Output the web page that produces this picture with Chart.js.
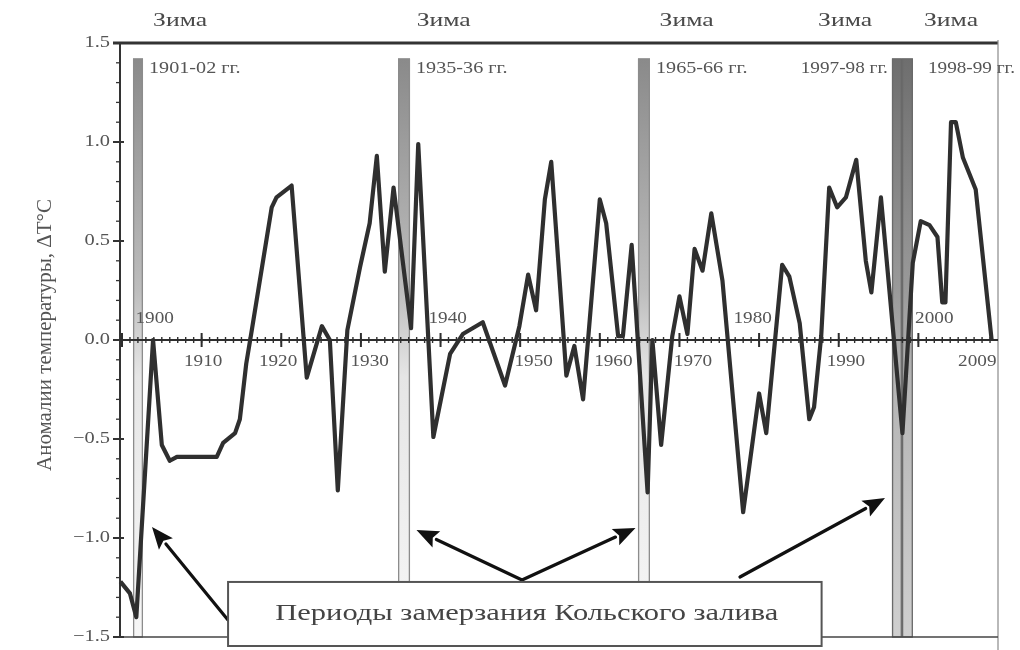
<!DOCTYPE html>
<html><head><meta charset="utf-8">
<script src="https://cdn.jsdelivr.net/npm/chart.js@4.4.1/dist/chart.umd.min.js"></script>
<style>html,body{margin:0;padding:0;background:#fff;}canvas{display:block;}</style>
</head><body>
<canvas id="c" width="1020" height="650"></canvas>
<script>
// ---- data ----
const years = [1899.8,1901.0,1901.8,1903.9,1905.0,1906.0,1906.9,1911.9,1912.7,1914.2,1914.8,1915.6,1916.3,1918.8,1919.4,1921.3,1923.2,1925.1,1926.1,1927.1,1928.3,1929.9,1931.1,1932.0,1933.0,1934.1,1936.3,1937.2,1939.1,1941.2,1942.8,1945.3,1948.1,1949.9,1951.0,1952.0,1953.1,1953.9,1955.8,1956.8,1957.9,1960.0,1960.8,1962.3,1962.9,1964.0,1966.0,1966.6,1967.7,1969.1,1970.0,1971.0,1971.9,1972.9,1974.0,1975.4,1978.0,1980.0,1980.9,1982.9,1983.8,1985.1,1986.3,1986.9,1987.8,1988.8,1989.8,1990.9,1992.2,1993.4,1994.1,1995.3,1998.0,1999.3,2000.3,2001.4,2002.4,2003.0,2003.4,2004.1,2004.7,2005.6,2007.2,2009.2];
const anomalies = [-1.22,-1.28,-1.40,0.0,-0.53,-0.61,-0.59,-0.59,-0.52,-0.47,-0.40,-0.12,0.05,0.67,0.72,0.78,-0.19,0.07,0.0,-0.76,0.05,0.37,0.59,0.93,0.345,0.77,0.06,0.99,-0.49,-0.07,0.03,0.09,-0.23,0.07,0.33,0.15,0.71,0.90,-0.18,-0.03,-0.30,0.71,0.59,0.02,0.02,0.48,-0.77,0.0,-0.53,0.02,0.22,0.03,0.46,0.35,0.64,0.30,-0.87,-0.27,-0.47,0.38,0.32,0.085,-0.40,-0.34,0.02,0.77,0.67,0.72,0.91,0.40,0.24,0.72,-0.47,0.39,0.60,0.58,0.52,0.19,0.19,1.10,1.10,0.92,0.76,0.0];

const yTicks = [1.5, 1.0, 0.5, 0.0, -0.5, -1.0, -1.5];
const xTickYears = [1900,1910,1920,1930,1940,1950,1960,1970,1980,1990,2000];
const xTickLabels = ['1900','1910','1920','1930','1940','1950','1960','1970','1980','1990','2000','2009'];
const xLabelAt = [1904.1,1910.2,1919.6,1931.1,1940.9,1951.7,1961.7,1971.7,1979.2,1990.9,2002.0,2007.4];
const xLabelAbove = [true,false,false,false,true,false,false,false,true,false,true,false];

const freezeStart = [1901.38, 1934.66, 1964.79, 1996.68, 1997.94];
const freezeEnd   = [1902.64, 1936.17, 1966.30, 1997.94, 1999.32];
const freezeLabels = ['1901-02 гг.','1935-36 гг.','1965-66 гг.','1997-98 гг.','1998-99 гг.'];
const freezeTop = 1.42;
const winterLabel = 'Зима';
const winterAt = [1907.3, 1940.4, 1970.9, 1990.8, 2004.1];
const yTitle = 'Аномалии температуры, ΔT°C';
const boxText = 'Периоды замерзания Кольского залива';
// arrows: [fromYear, fromValue, toYear, toValue] (heads at "to")
const arrows = [
  [1913.31,-1.414,1903.77,-0.944],
  [1950.23,-1.212,1936.98,-0.960],
  [1950.23,-1.212,1964.48,-0.949],
  [1977.60,-1.197,1995.81,-0.798]
];

const SERIF = '"Liberation Serif","DejaVu Serif",serif';
function drawText(ctx, s, x, y, o) {
  ctx.save();
  ctx.font = (o.size||16) + 'px ' + SERIF;
  ctx.fillStyle = o.color || '#4a4a4a';
  ctx.textBaseline = 'middle';
  ctx.textAlign = 'left';
  const mw = ctx.measureText(s).width;
  const sx = o.width ? o.width / mw : (o.sx || 1);
  const w = mw * sx;
  ctx.translate(x, y);
  if (o.rot) ctx.rotate(o.rot);
  let x0 = o.align === 'center' ? -w/2 : (o.align === 'right' ? -w : 0);
  ctx.translate(x0, 0);
  ctx.scale(sx, o.sy || 1);
  ctx.fillText(s, 0, 0);
  ctx.restore();
}

const deco = {
  id: 'deco',
  beforeDatasetsDraw(chart) {
    const {ctx, chartArea: a, scales: {x, y}} = chart;
    ctx.save();
    // freeze bars
    freezeStart.forEach((s, i) => {
      const x0 = x.getPixelForValue(s), x1 = x.getPixelForValue(freezeEnd[i]);
      const yt = y.getPixelForValue(freezeTop), yb = y.getPixelForValue(-1.5);
      const dark = i >= 3;
      const g = ctx.createLinearGradient(0, yt, 0, yb);
      g.addColorStop(0, dark ? '#6e6e6e' : '#8a8a8a');
      g.addColorStop(0.4, dark ? '#9a9a9a' : '#bdbdbd');
      g.addColorStop(0.55, dark ? '#b4b4b4' : '#e6e6e6');
      g.addColorStop(1, dark ? '#cfcfcf' : '#f6f6f6');
      ctx.fillStyle = g;
      ctx.fillRect(x0, yt, x1 - x0, yb - yt);
      ctx.strokeStyle = dark ? '#6a6a6a' : '#8c8c8c';
      ctx.lineWidth = 1.3;
      ctx.strokeRect(x0 + 0.65, yt, x1 - x0 - 1.3, yb - yt);
    });
    // frame: top, right, bottom
    ctx.strokeStyle = '#333'; ctx.lineWidth = 3;
    ctx.beginPath(); ctx.moveTo(a.left - 7, a.top); ctx.lineTo(a.right, a.top); ctx.stroke();
    ctx.strokeStyle = '#8a8a8a'; ctx.lineWidth = 1.2;
    ctx.beginPath(); ctx.moveTo(a.right, a.top - 3); ctx.lineTo(a.right, 650); ctx.stroke();
    ctx.strokeStyle = '#444'; ctx.lineWidth = 1.6;
    ctx.beginPath(); ctx.moveTo(a.left - 6, a.bottom); ctx.lineTo(a.right, a.bottom); ctx.stroke();
    // y axis
    ctx.strokeStyle = '#333'; ctx.lineWidth = 2;
    ctx.beginPath(); ctx.moveTo(a.left, a.top); ctx.lineTo(a.left, a.bottom); ctx.stroke();
    for (let k = -15; k <= 15; k++) {
      const py = y.getPixelForValue(k / 10);
      const major = k % 5 === 0;
      ctx.lineWidth = major ? 2 : 1.3;
      ctx.beginPath();
      ctx.moveTo(a.left - (major ? 7 : 4), py);
      ctx.lineTo(a.left + (major ? 4 : 0), py);
      ctx.stroke();
    }
    yTicks.forEach(v => {
      const lbl = (v < 0 ? '\u2212' : '') + Math.abs(v).toFixed(1);
      drawText(ctx, lbl, a.left - 10, y.getPixelForValue(v), {size: 17, sx: 1.2, align: 'right', color: '#555'});
    });
    // x axis at zero
    const y0 = y.getPixelForValue(0);
    ctx.strokeStyle = '#2e2e2e'; ctx.lineWidth = 2.2;
    ctx.beginPath(); ctx.moveTo(a.left, y0); ctx.lineTo(a.right, y0); ctx.stroke();
    ctx.lineWidth = 1.4;
    for (let yr = 1900; yr <= 2009; yr++) {
      const px = x.getPixelForValue(yr);
      ctx.beginPath(); ctx.moveTo(px, y0 - 3); ctx.lineTo(px, y0 + 3); ctx.stroke();
    }
    ctx.lineWidth = 2;
    xTickYears.forEach(yr => {
      const px = x.getPixelForValue(yr);
      ctx.beginPath(); ctx.moveTo(px, y0 - 7); ctx.lineTo(px, y0 + 7); ctx.stroke();
    });
    xTickLabels.forEach((t, i) => {
      const px = x.getPixelForValue(xLabelAt[i]);
      drawText(ctx, t, px, y0 + (xLabelAbove[i] ? -21 : 22), {size: 16, sx: 1.2, align: 'center', color: '#555'});
    });
    ctx.restore();
  },
  afterDatasetsDraw(chart) {
    const {ctx, chartArea: a, scales: {x, y}} = chart;
    ctx.save();
    // winter labels
    winterAt.forEach(w => drawText(ctx, winterLabel, x.getPixelForValue(w), 21, {size: 19, sx: 1.35, align: 'center', color: '#4a4a4a'}));
    // freeze labels
    const ly = y.getPixelForValue(1.37);
    freezeLabels.forEach((t, i) => {
      if (i === 3) drawText(ctx, t, x.getPixelForValue(freezeStart[i]) - 4, ly, {size: 16, sx: 1.2, align: 'right', color: '#555'});
      else if (i === 4) drawText(ctx, t, x.getPixelForValue(freezeEnd[i]) + 15, ly, {size: 16, sx: 1.2, align: 'left', color: '#555'});
      else drawText(ctx, t, x.getPixelForValue(freezeEnd[i]) + 6, ly, {size: 16, sx: 1.26, align: 'left', color: '#555'});
    });
    // y title
    drawText(ctx, yTitle, 46, 335, {size: 17, width: 272, align: 'center', rot: -Math.PI / 2, sy: 1.2, color: '#555'});
    // arrows
    ctx.strokeStyle = '#111'; ctx.fillStyle = '#111'; ctx.lineWidth = 3.2; ctx.lineCap = 'round';
    arrows.forEach(([x1v, y1v, x2v, y2v]) => {
      const x1 = x.getPixelForValue(x1v), y1 = y.getPixelForValue(y1v);
      const x2 = x.getPixelForValue(x2v), y2 = y.getPixelForValue(y2v);
      const ang = Math.atan2(y2 - y1, x2 - x1);
      const L = 22, W = 9;
      const bx = x2 - L * Math.cos(ang), by = y2 - L * Math.sin(ang);
      ctx.beginPath(); ctx.moveTo(x1, y1); ctx.lineTo(bx, by); ctx.stroke();
      ctx.beginPath();
      ctx.moveTo(x2, y2);
      ctx.lineTo(bx + W * Math.sin(ang), by - W * Math.cos(ang));
      ctx.lineTo(bx + 4 * Math.cos(ang), by + 4 * Math.sin(ang));
      ctx.lineTo(bx - W * Math.sin(ang), by + W * Math.cos(ang));
      ctx.closePath(); ctx.fill();
    });
    // legend box
    const bx0 = x.getPixelForValue(1913.32), bx1 = x.getPixelForValue(1987.85);
    const by0 = y.getPixelForValue(-1.222), by1 = 646;
    ctx.fillStyle = '#fff';
    ctx.fillRect(bx0, by0, bx1 - bx0, by1 - by0);
    ctx.strokeStyle = '#555'; ctx.lineWidth = 2;
    ctx.strokeRect(bx0, by0, bx1 - bx0, by1 - by0);
    drawText(ctx, boxText, (bx0 + bx1) / 2 + 2, 614, {size: 24, width: 503, align: 'center', color: '#444'});
    ctx.restore();
  }
};

new Chart(document.getElementById('c'), {
  type: 'scatter',
  data: {
    datasets: [{
      data: years.map((yr, i) => ({x: yr, y: anomalies[i]})),
      showLine: true,
      borderColor: '#2f2f2f',
      borderWidth: 4.2,
      borderJoinStyle: 'round',
      pointRadius: 0,
      tension: 0,
      clip: false
    }]
  },
  options: {
    responsive: false,
    animation: false,
    devicePixelRatio: 1,
    layout: {padding: {left: 120, right: 22, top: 43, bottom: 13}},
    scales: {
      x: {type: 'linear', min: 1899.75, max: 2010, display: false},
      y: {min: -1.5, max: 1.5, display: false}
    },
    plugins: {legend: {display: false}, tooltip: {enabled: false}}
  },
  plugins: [deco]
});
</script>
</body></html>
